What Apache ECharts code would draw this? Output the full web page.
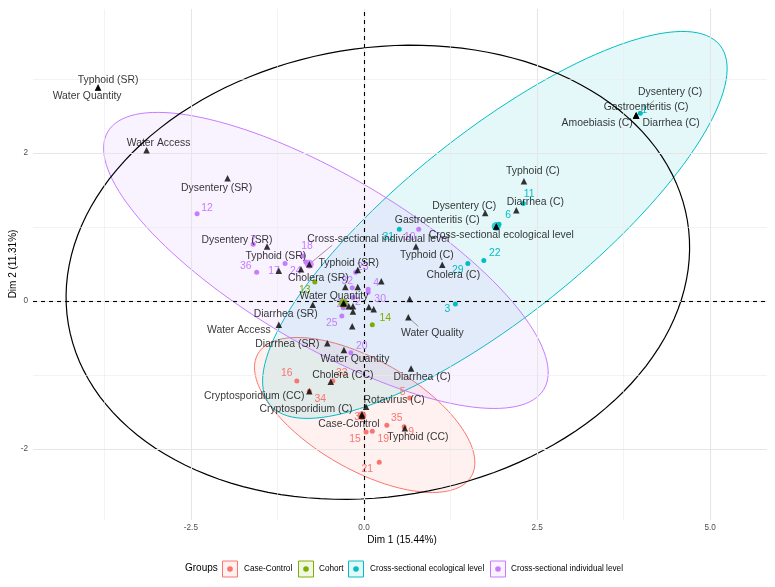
<!DOCTYPE html>
<html><head><meta charset="utf-8">
<script src="https://cdn.jsdelivr.net/npm/echarts@6/dist/echarts.min.js"></script>
<style>html,body{margin:0;padding:0;background:#fff}#c{width:775px;height:587px}</style>
</head><body><div id="c"></div>
<script>
// ---- axes / ticks ----
const xMajor = [-2.5, 0, 2.5, 5];
const xMinor = [-3.75, -1.25, 1.25, 3.75];
const yMajor = [-2, 0, 2];
const yMinor = [-1, 1, 3];
const xTickLabels = ['-2.5', '0.0', '2.5', '5.0'];
const yTickLabels = ['-2', '0', '2'];

// ---- groups ----
const groupNames = ['Case-Control', 'Cohort', 'Cross-sectional ecological level', 'Cross-sectional individual level'];
const groupColors = ['#F8766D', '#7CAE00', '#00BFC4', '#C77CFF'];

const ccIds = ['16','33','34','5','38','35','9','15','19','21'];
const ccX = [-0.97,-0.45,-0.79,0.66,-0.03,0.33,0.58,0.03,0.12,0.22];
const ccY = [-1.08,-1.08,-1.22,-1.31,-1.55,-1.68,-1.70,-1.77,-1.76,-2.18];

const coIds = ['13','14'];
const coX = [-0.71,0.12];
const coY = [0.26,-0.32];

const ecoIds = ['1','11','6','22','29','3','31'];
const ecoX = [3.99,2.30,1.95,1.73,1.50,1.32,0.51];
const ecoY = [2.54,1.32,1.04,0.55,0.51,-0.04,0.97];

const indIds = ['12','36','17','24','18','7','23','32','4','30','26','2','25','20','10'];
const indX = [-2.41,-1.55,-1.14,-0.84,-0.88,-1.60,-0.12,-0.17,0.06,0.06,-0.30,-0.16,-0.32,-0.19,0.79];
const indY = [1.18,0.39,0.51,0.53,0.61,0.77,0.39,0.18,0.16,0.12,-0.09,0.05,-0.20,-0.70,0.97];

const centroidX = [-0.03,-0.30,1.91,-0.79];
const centroidY = [-1.55,-0.03,1.01,0.50];

// ---- variable categories (triangles) ----
const catNames = ['Typhoid (SR)','Water Quantity','Water Access','Dysentery (SR)','Dysentery (SR)','Typhoid (SR)','',
  'Typhoid (SR)','Cholera (SR)','','','Diarrhea (SR)','Water Quantity','','','','','','',
  'Water Quality','','Water Access','Diarrhea (SR)','Water Quantity','Cholera (CC)','Cryptosporidium (CC)',
  'Cryptosporidium (C)','Rotavirus (C)','Typhoid (CC)','Case-Control','Diarrhea (C)','Typhoid (C)','Cholera (C)',
  'Dysentery (C)','Diarrhea (C)','Typhoid (C)','Gastroenteritis (C)','Cross-sectional ecological level',
  'Cross-sectional individual level','',
  'Dysentery (C)','Gastroenteritis (C)','Amoebiasis (C)','Diarrhea (C)'];
const catX = [-3.84,-3.84,-3.14,-1.97,-1.40,-1.23,-0.91,
  -0.09,-0.27,-0.09,0.25,-0.74,-0.29,-0.22,-0.16,-0.16,0.07,0.14,0.66,
  0.64,-0.17,-1.23,-0.53,-0.29,-0.48,-0.79,
  -0.03,0.03,0.59,-0.03,0.68,0.75,1.13,
  1.75,2.20,2.31,1.91,1.91,
  -0.79,-0.30,
  3.93,3.93,3.93,3.93];
const catY = [2.89,2.89,2.04,1.66,0.74,0.41,0.43,
  0.42,0.19,0.19,0.27,-0.05,-0.03,-0.07,-0.07,-0.14,-0.08,-0.11,0.03,
  -0.22,-0.34,-0.32,-0.57,-0.66,-1.09,-1.22,
  -1.53,-1.43,-1.72,-1.55,-0.91,0.74,0.49,
  1.19,1.23,1.62,1.01,1.01,
  0.50,-0.03,
  2.51,2.51,2.51,2.51];

// ---- label layout (pixel offsets of label centres, style only) ----
const ccOff = [[-10,-8],[9,-8],[11,8],[-7,-6],[-2,1],[10,-7],[7,5],[-11,7],[11,8],[-12,7]];
const coOff = [[-10,8],[13,-7]];
const ecoOff = [[4,-3],[6,-9],[9,-9],[11,-7],[-10,7],[-8,5],[-11,8]];
const indOff = [[10,-6],[-11,-6],[-11,8],[-10,9],[4,-10],[0,-4],[7,-5],[-5,-7],[8,-6],[12,7],[-1,-4],[5,5],[-10,7],[11,-7],[-9,8]];
const catOff = [[10,-7],[-11,9],[12,-7],[-11,10],[-30,-6],[-3,-15],[0,0],
  [-9,-7],[-27,-9],[0,0],[0,0],[-27,9],[-10,-7],[0,0],[0,0],[0,0],[0,0],[0,0],[0,0],
  [24,16],[0,0],[-40,5],[-40,1],[11,9],[12,-7],[-55,5],
  [-56,-5],[28,-7],[13,9],[-13,8],[11,9],[11,9],[11,10],
  [-21,-7],[19,-8],[9,-10],[-59,-6],[5,9],
  [69,-25],[0,0],
  [34,-23],[10,-8],[-39,8],[35,8]];
// leader segments: category index and pixel end offset
const leaderIdx = [19, 38, 40];
const leaderEnd = [[10,9],[23,-19],[18,-15]];

// ---- ellipses (centre + two conjugate semi-axes, data units) ----
const ellipseColor = ['#F8766D','#00BFC4','#C77CFF','#000000'];
const ellipseFill = ['rgba(248,118,109,0.1)','rgba(0,191,196,0.1)','rgba(199,124,255,0.1)','rgba(0,0,0,0)'];
const ellipseCX = [0.01, 1.89, -0.55, 0.20];
const ellipseCY = [-1.54, 1.03, 0.55, 0.39];
const ellipseA = [[1.54,-0.83],[3.25,2.43],[3.15,-1.74],[4.47,0.70]];
const ellipseB = [[0.40,0.64],[0.83,-0.97],[0.62,0.99],[0.54,-2.99]];

const FONT = 'Liberation Sans';
const chart = echarts.init(document.getElementById('c'), null, {renderer: 'canvas'});

function layoutFrom(off) {
  return function (p) { const o = off[p.dataIndex] || [0, 0]; return {dx: o[0], dy: o[1]}; };
}
function groupSeries(ids, xs, ys, off, color, name) {
  return {
    type: 'scatter', name: name, z: 5,
    symbol: 'circle', symbolSize: 5,
    itemStyle: {color: color, opacity: 1},
    label: {show: true, position: 'inside', formatter: '{b}', color: color,
            fontFamily: FONT, fontSize: 10.4},
    labelLayout: layoutFrom(off),
    emphasis: {disabled: true},
    data: ids.map((id, i) => ({name: id, value: [xs[i], ys[i]]}))
  };
}

const series = [];
series.push({
  type: 'scatter', data: [], silent: true, z: 1,
  markLine: {
    silent: true, symbol: 'none', animation: false, label: {show: false},
    data: [
      ...xMinor.map(v => ({xAxis: v, lineStyle: {color: '#EBEBEB', width: 0.6, type: 'solid'}})),
      ...yMinor.map(v => ({yAxis: v, lineStyle: {color: '#EBEBEB', width: 0.6, type: 'solid'}})),
      ...xMajor.map(v => ({xAxis: v, lineStyle: {color: '#E6E6E6', width: 1.1, type: 'solid'}})),
      ...yMajor.map(v => ({yAxis: v, lineStyle: {color: '#E6E6E6', width: 1.1, type: 'solid'}}))
    ]
  }
});
series.push({
  type: 'custom', z: 2, silent: true, clip: true,
  data: ellipseCX.map((x, i) => [x, ellipseCY[i]]),
  renderItem: function (params, api) {
    const i = params.dataIndex;
    const pts = [];
    for (let k = 0; k <= 144; k++) {
      const t = k / 144 * Math.PI * 2;
      const x = ellipseCX[i] + ellipseA[i][0] * Math.cos(t) + ellipseB[i][0] * Math.sin(t);
      const y = ellipseCY[i] + ellipseA[i][1] * Math.cos(t) + ellipseB[i][1] * Math.sin(t);
      pts.push(api.coord([x, y]));
    }
    return {type: 'polygon', shape: {points: pts},
            style: {fill: ellipseFill[i], stroke: ellipseColor[i], lineWidth: i === 3 ? 1.2 : 1}};
  }
});
series.push({
  type: 'scatter', data: [], silent: true, z: 3,
  markLine: {
    silent: true, symbol: 'none', animation: false, label: {show: false},
    lineStyle: {color: '#000', width: 1.1, type: [4, 4]},
    data: [{xAxis: 0}, {yAxis: 0}]
  }
});
// leader segments
series.push({
  type: 'custom', z: 4, silent: true,
  data: leaderIdx.map(i => [catX[i], catY[i]]),
  renderItem: function (params, api) {
    const p = api.coord([api.value(0), api.value(1)]);
    const e = leaderEnd[params.dataIndex];
    return {type: 'line', shape: {x1: p[0], y1: p[1], x2: p[0] + e[0], y2: p[1] + e[1]},
            style: {stroke: '#555', lineWidth: 0.6}};
  }
});
series.push(groupSeries(ccIds, ccX, ccY, ccOff, groupColors[0], groupNames[0]));
series.push(groupSeries(coIds, coX, coY, coOff, groupColors[1], groupNames[1]));
series.push(groupSeries(ecoIds, ecoX, ecoY, ecoOff, groupColors[2], groupNames[2]));
series.push(groupSeries(indIds, indX, indY, indOff, groupColors[3], groupNames[3]));
series.push({
  type: 'scatter', z: 6, symbolSize: 9, emphasis: {disabled: true},
  data: centroidX.map((x, i) => ({value: [x, centroidY[i]], itemStyle: {color: groupColors[i]}}))
});
series.push({
  type: 'scatter', z: 7, symbol: 'triangle', symbolSize: 6.5,
  itemStyle: {color: '#000'}, emphasis: {disabled: true},
  label: {show: true, position: 'inside', formatter: '{b}', color: '#000', fontFamily: FONT, fontSize: 10.4},
  labelLayout: layoutFrom(catOff),
  data: catNames.map((n, i) => ({name: n, value: [catX[i], catY[i]]}))
});

// legend + axis titles drawn as graphic
const legX = [230, 306, 356, 498];
const legTextX = [244, 319, 370, 511];
const legendEls = [{type: 'text', left: 185, top: 563, style: {text: 'Groups', fontFamily: FONT, fontSize: 10, fill: '#000'}}];
groupNames.forEach((g, i) => {
  legendEls.push({type: 'rect', shape: {x: legX[i] - 7.5, y: 561, width: 15, height: 16},
    style: {fill: groupColors[i] + '1A', stroke: groupColors[i], lineWidth: 1}});
  legendEls.push({type: 'circle', shape: {cx: legX[i], cy: 569, r: 2.8}, style: {fill: groupColors[i]}});
  legendEls.push({type: 'text', left: legTextX[i], top: 564.5, style: {text: g, fontFamily: FONT, fontSize: 8.2, fill: '#000'}});
});
legendEls.push({type: 'text', x: 402, y: 540, style: {text: 'Dim 1 (15.44%)', fontFamily: FONT, fontSize: 10, fill: '#000', align: 'center', verticalAlign: 'middle'}});
legendEls.push({type: 'text', x: 13, y: 264, rotation: Math.PI / 2, style: {text: 'Dim 2 (11.31%)', fontFamily: FONT, fontSize: 10, fill: '#000', align: 'center', verticalAlign: 'middle'}});

chart.setOption({
  animation: false,
  backgroundColor: '#fff',
  grid: {left: 33, right: 8, top: 9, bottom: 67},
  xAxis: {
    type: 'value', min: -4.78, max: 5.82,
    axisLine: {show: false}, axisTick: {show: false}, splitLine: {show: false},
    axisLabel: {customValues: xMajor, formatter: v => xTickLabels[xMajor.indexOf(v)] ?? '',
                color: '#4D4D4D', fontFamily: FONT, fontSize: 8.2, margin: 4}
  },
  yAxis: {
    type: 'value', min: -2.96, max: 3.95,
    axisLine: {show: false}, axisTick: {show: false}, splitLine: {show: false},
    axisLabel: {customValues: yMajor, formatter: v => yTickLabels[yMajor.indexOf(v)] ?? '',
                color: '#4D4D4D', fontFamily: FONT, fontSize: 8.2, margin: 5}
  },
  graphic: legendEls,
  series: series
});
</script></body></html>
